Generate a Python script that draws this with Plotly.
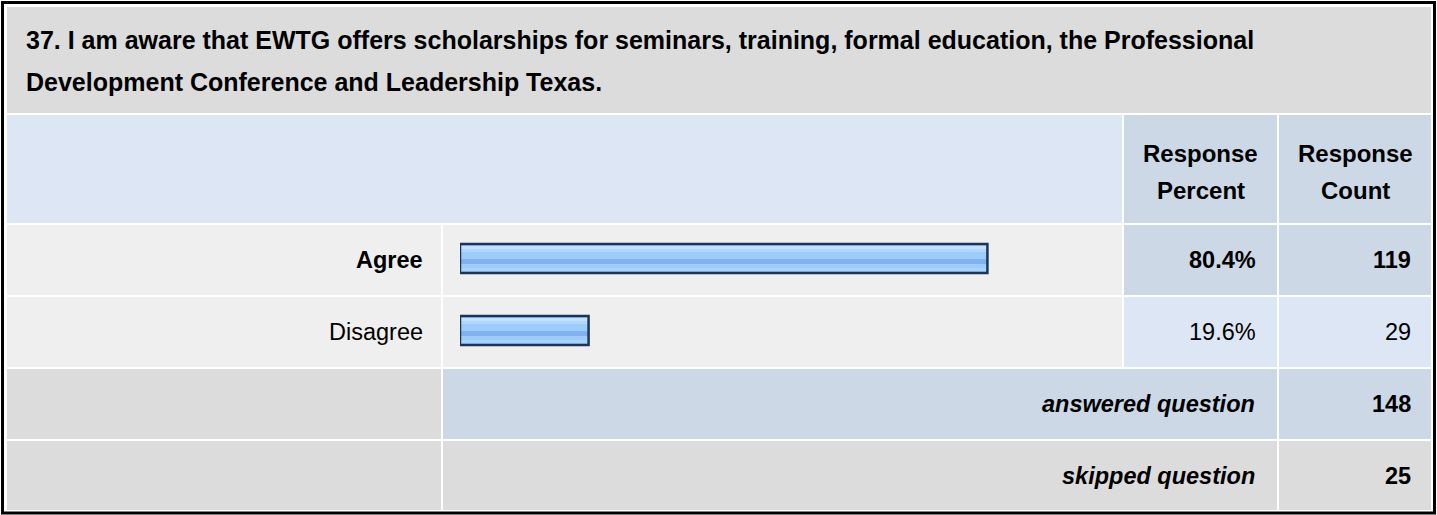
import plotly.graph_objects as go

# Survey question 37: answer choices, response percent and response count
question_lines = [
    "37. I am aware that EWTG offers scholarships for seminars, training, formal education, the Professional",
    "Development Conference and Leadership Texas.",
]
answer_choices = ["Agree", "Disagree"]
response_percent = [80.4, 19.6]
response_count = [119, 29]
header_labels = [["Response", "Percent"], ["Response", "Count"]]
summary_labels = ["answered question", "skipped question"]
summary_counts = [148, 25]

W, H = 1437, 515
FONT = "Liberation Sans, Arial, Helvetica, sans-serif"
TITLE_SIZE = 25
HEAD_SIZE = 24
BODY_SIZE = 23.5


def px(x):
    return x / W


def py(y):
    return 1 - y / H


# Table grid (pixel edges)
COL_LABEL = (7, 441)
COL_BAR = (443, 1122)
COL_PCT = (1124, 1277)
COL_CNT = (1279, 1431)
ROW_TITLE = (7, 113)
ROW_HEAD = (115, 223)
ROW_CHOICES = [(225, 295), (297, 367)]
ROW_SUMMARY = [(369, 439), (441, 510)]

GRAY = "#dcdcdc"
ROWBG = "#efefef"
BLUE_LIGHT = "#dce6f4"
BLUE_MID = "#ccd8e6"

shapes = []


def cell(xs, ys, color):
    shapes.append(dict(type="rect", xref="paper", yref="paper",
                       x0=px(xs[0]), x1=px(xs[1]), y0=py(ys[1]), y1=py(ys[0]),
                       fillcolor=color, line=dict(width=0), layer="below"))


# outer frame
shapes.append(dict(type="rect", xref="paper", yref="paper",
                   x0=px(2.5), x1=px(1434.5), y0=py(513), y1=py(2.5),
                   fillcolor="rgba(0,0,0,0)", line=dict(color="#000000", width=3),
                   layer="above"))

cell((COL_LABEL[0], COL_CNT[1]), ROW_TITLE, GRAY)
cell((COL_LABEL[0], COL_BAR[1]), ROW_HEAD, BLUE_LIGHT)
cell(COL_PCT, ROW_HEAD, BLUE_MID)
cell(COL_CNT, ROW_HEAD, BLUE_MID)

choice_value_bg = [BLUE_MID, BLUE_LIGHT]
for ys, vbg in zip(ROW_CHOICES, choice_value_bg):
    cell(COL_LABEL, ys, ROWBG)
    cell(COL_BAR, ys, ROWBG)
    cell(COL_PCT, ys, vbg)
    cell(COL_CNT, ys, vbg)

summary_bg = [BLUE_MID, GRAY]
for ys, sbg in zip(ROW_SUMMARY, summary_bg):
    cell(COL_LABEL, ys, GRAY)
    cell((COL_BAR[0], COL_PCT[1]), ys, sbg)
    cell(COL_CNT, ys, sbg)

annotations = []


def text(x, y, s, anchor="right", size=BODY_SIZE):
    annotations.append(dict(xref="paper", yref="paper", x=px(x), y=py(y), text=s,
                            showarrow=False, xanchor=anchor, yanchor="middle",
                            font=dict(family=FONT, size=size, color="#000000")))


# question title
for line, y in zip(question_lines, [40, 82]):
    text(24, y, "<b>" + line + "</b>", anchor="left", size=TITLE_SIZE)

# column headers
for col, words in zip([COL_PCT, COL_CNT], header_labels):
    cx = (col[0] + col[1]) / 2
    text(cx, 153, "<b>" + words[0] + "</b>", anchor="center", size=HEAD_SIZE)
    text(cx, 190, "<b>" + words[1] + "</b>", anchor="center", size=HEAD_SIZE)

# answer rows; the leading choice is shown in bold
top = max(range(len(response_count)), key=lambda i: response_count[i])
for i, (lab, pct, cnt, ys) in enumerate(zip(answer_choices, response_percent,
                                            response_count, ROW_CHOICES)):
    cy = (ys[0] + ys[1]) / 2
    wrap = (lambda s: "<b>" + s + "</b>") if i == top else (lambda s: s)
    text(425, cy, wrap(lab))
    text(1258, cy, wrap(f"{pct:.1f}%"))
    text(1413, cy, wrap(str(cnt)))

for lab, cnt, ys in zip(summary_labels, summary_counts, ROW_SUMMARY):
    cy = (ys[0] + ys[1]) / 2
    text(1257, cy, "<b><i>" + lab + "</i></b>")
    text(1413, cy, "<b>" + str(cnt) + "</b>")

# horizontal bars with a glossy banded fill
fig = go.Figure()
BAR_W = 0.40
bands = [
    (0.0, 1.0, "#9dcbfb"),
    (2 / 29, 3 / 29, "#c6e1fe"),
    (5 / 29, 3 / 29, "#afd6fd"),
    (15 / 29, 5 / 29, "#7fb2ee"),
    (24 / 29, 3 / 29, "#a9d2fc"),
]
for start, frac, color in bands:
    fig.add_trace(go.Bar(
        x=response_percent, y=answer_choices, orientation="h",
        width=BAR_W * frac, offset=-BAR_W / 2 + BAR_W * start,
        marker=dict(color=color, line=dict(width=0)),
        hoverinfo="skip", showlegend=False,
    ))
fig.add_trace(go.Bar(
    x=response_percent, y=answer_choices, orientation="h",
    width=BAR_W, offset=-BAR_W / 2,
    marker=dict(color="rgba(0,0,0,0)", line=dict(color="#1b355a", width=2.5)),
    hovertemplate="%{y}: %{x}%<extra></extra>", showlegend=False,
))

fig.update_layout(
    width=W, height=H,
    margin=dict(l=0, r=0, t=0, b=0),
    paper_bgcolor="#ffffff", plot_bgcolor="rgba(0,0,0,0)",
    barmode="overlay",
    shapes=shapes, annotations=annotations,
    xaxis=dict(domain=[px(460), px(1116)], range=[0, 100], visible=False,
               fixedrange=True),
    yaxis=dict(domain=[py(366.5), py(222.5)], range=[1.5, -0.5],
               type="category", categoryorder="array",
               categoryarray=answer_choices, visible=False, fixedrange=True),
)

fig.write_html("out.html")
